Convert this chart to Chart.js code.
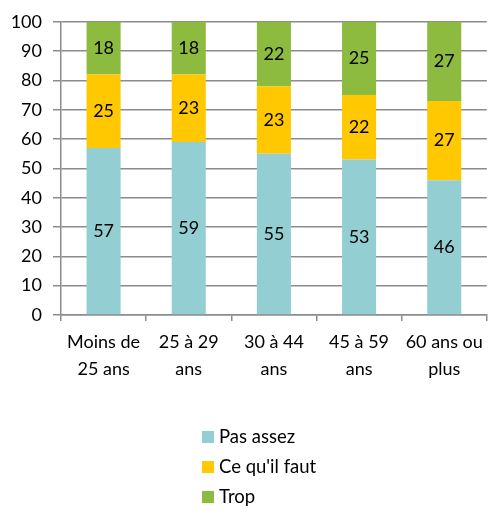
<!DOCTYPE html>
<html>
<head>
<meta charset="utf-8">
<script src="https://cdn.jsdelivr.net/npm/chart.js@4/dist/chart.umd.min.js"></script>
<style>
  html, body { margin: 0; padding: 0; background: #fff; }
  #wrap { width: 491px; height: 519px; position: relative; }
</style>
</head>
<body>
<div id="wrap"><canvas id="ageChart"></canvas></div>
<script>
const categories = [["Moins de", "25 ans"], ["25 à 29", "ans"], ["30 à 44", "ans"], ["45 à 59", "ans"], ["60 ans ou", "plus"]];
const pasAssez = [57, 59, 55, 53, 46];
const ceQuilFaut = [25, 23, 23, 22, 27];
const trop = [18, 18, 22, 25, 27];
const yTicks = [0, 10, 20, 30, 40, 50, 60, 70, 80, 90, 100];

const FONT = "Lato, 'Open Sans', sans-serif";

// values written in the middle of each segment
const segmentLabels = {
  id: "segmentLabels",
  afterDatasetsDraw(chart) {
    const ctx = chart.ctx;
    ctx.save();
    ctx.font = "18px " + FONT;
    ctx.fillStyle = "#000";
    ctx.textAlign = "center";
    ctx.textBaseline = "middle";
    chart.data.datasets.forEach((ds, i) => {
      chart.getDatasetMeta(i).data.forEach((bar, j) => {
        const p = bar.getProps(["x", "y", "base"], true);
        ctx.fillText(ds.data[j], p.x, (p.y + p.base) / 2);
      });
    });
    ctx.restore();
  }
};

// vertical legend under the axis
const stackedLegend = {
  id: "stackedLegend",
  afterDraw(chart) {
    const ctx = chart.ctx;
    ctx.save();
    ctx.font = "18.5px " + FONT;
    ctx.textBaseline = "middle";
    ctx.textAlign = "left";
    chart.data.datasets.forEach((ds, i) => {
      const y = 437 + i * 30;
      ctx.fillStyle = ds.backgroundColor;
      ctx.fillRect(202, y - 6, 12, 12);
      ctx.fillStyle = "#000";
      ctx.fillText(ds.label, 219, y);
    });
    ctx.restore();
  }
};

new Chart(document.getElementById("ageChart"), {
  type: "bar",
  data: {
    labels: categories,
    datasets: [
      { label: "Pas assez", data: pasAssez, backgroundColor: "#93CED2" },
      { label: "Ce qu'il faut", data: ceQuilFaut, backgroundColor: "#FFC800" },
      { label: "Trop", data: trop, backgroundColor: "#8CBB3F" }
    ]
  },
  options: {
    responsive: true,
    maintainAspectRatio: false,
    animation: false,
    layout: { padding: { top: 20, right: 2, bottom: 132, left: 0 } },
    datasets: { bar: { categoryPercentage: 1, barPercentage: 0.4 } },
    plugins: {
      legend: { display: false },
      tooltip: { enabled: false }
    },
    scales: {
      x: {
        stacked: true,
        afterFit: s => { s.height = 72; },
        border: { color: "#8c8c8c", width: 1.5 },
        grid: { drawOnChartArea: false, offset: true, tickLength: 6, color: "#8c8c8c", lineWidth: 1.5 },
        ticks: { color: "#000", font: { family: FONT, size: 18, lineHeight: 1.5 }, padding: 8, maxRotation: 0 }
      },
      y: {
        stacked: true,
        min: 0,
        max: 100,
        afterFit: s => { s.width = 61; },
        afterBuildTicks: s => { s.ticks = yTicks.map(v => ({ value: v })); },
        border: { color: "#8c8c8c", width: 1.5 },
        grid: { color: "#8c8c8c", lineWidth: 1.5, tickLength: 8 },
        ticks: { color: "#000", font: { family: FONT, size: 18 }, padding: 11 }
      }
    }
  },
  plugins: [segmentLabels, stackedLegend]
});
</script>
</body>
</html>
